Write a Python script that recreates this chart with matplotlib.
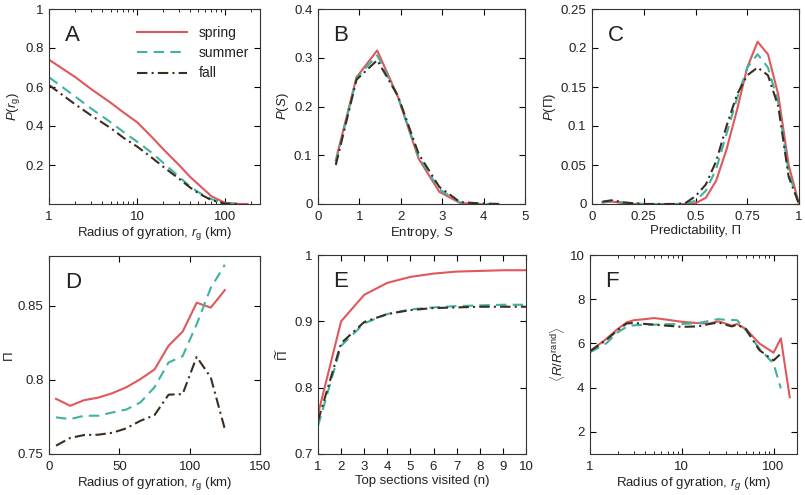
import matplotlib

matplotlib.use("Agg")
import matplotlib.pyplot as plt

plt.rcParams["font.family"] = ["Liberation Sans", "DejaVu Sans"]
plt.rcParams["mathtext.fontset"] = "custom"
plt.rcParams["mathtext.rm"] = "Liberation Sans"
plt.rcParams["mathtext.it"] = "Liberation Sans:italic"
plt.rcParams["mathtext.bf"] = "Liberation Sans:bold"
plt.rcParams["font.size"] = 9.5
plt.rcParams["text.color"] = "#222222"
plt.rcParams["axes.labelcolor"] = "#222222"

# ── Data

seasons = ["spring", "summer", "fall"]

# A: P(r_g)
rg_a = [1, 2, 3, 5, 7, 10, 15, 20, 30, 40, 50, 70, 100, 150, 180]
pa_spring = [0.74, 0.65, 0.59, 0.52, 0.47, 0.42, 0.34, 0.28, 0.20, 0.14, 0.10, 0.04, 0.006, 0.0, 0.0]
pa_summer = [0.65, 0.55, 0.49, 0.42, 0.37, 0.32, 0.26, 0.21, 0.14, 0.09, 0.06, 0.025, 0.003, 0.0]
pa_fall = [0.61, 0.51, 0.455, 0.39, 0.34, 0.295, 0.235, 0.19, 0.13, 0.085, 0.055, 0.02, 0.002, 0.0]

# B: P(S)
s_b = [0.43, 0.93, 1.43, 1.93, 2.43, 2.93, 3.43, 3.93, 4.43]
pb_spring = [0.09, 0.26, 0.315, 0.22, 0.093, 0.025, 0.002, 0.0]
pb_summer = [0.085, 0.258, 0.305, 0.22, 0.097, 0.03, 0.003, 0.0, 0.0]
pb_fall = [0.08, 0.255, 0.295, 0.222, 0.103, 0.035, 0.004, 0.001, 0.0]

# C: P(Pi)
pi_c = [0.05, 0.1, 0.15, 0.2, 0.25, 0.3, 0.35, 0.4, 0.45, 0.5,
        0.55, 0.6, 0.65, 0.7, 0.75, 0.8, 0.85, 0.9, 0.95, 1.0]
pc_spring = [0.002, 0.003, 0.001, 0.0, 0.0, 0.0, 0.0, 0.0, 0.0, 0.001,
             0.008, 0.03, 0.07, 0.12, 0.175, 0.208, 0.192, 0.14, 0.05, 0.0]
pc_summer = [0.002, 0.004, 0.002, 0.001, 0.0, 0.0, 0.0, 0.0, 0.0005, 0.004,
             0.017, 0.045, 0.09, 0.135, 0.175, 0.192, 0.175, 0.13, 0.04, 0.0]
pc_fall = [0.003, 0.005, 0.002, 0.001, 0.0, 0.0, 0.0, 0.0, 0.001, 0.01,
           0.025, 0.055, 0.1, 0.14, 0.165, 0.175, 0.165, 0.125, 0.035, 0.0]

# D: Pi vs r_g
rg_d = [5, 15, 25, 35, 45, 55, 65, 75, 85, 95, 105, 115, 125]
pd_spring = [0.7872, 0.7825, 0.7863, 0.788, 0.791, 0.795, 0.8005, 0.807, 0.823, 0.8325, 0.852, 0.8487, 0.8605]
pd_summer = [0.7747, 0.7735, 0.7758, 0.7758, 0.778, 0.780, 0.7848, 0.795, 0.8117, 0.816, 0.8375, 0.862, 0.8776]
pd_fall = [0.7556, 0.7608, 0.7628, 0.763, 0.7643, 0.7673, 0.7724, 0.7762, 0.790, 0.7904, 0.8155, 0.8016, 0.7668]

# E: Pi tilde vs top n sections
n_e = [1, 2, 3, 4, 5, 6, 7, 8, 9, 10]
pe_spring = [0.76, 0.90, 0.94, 0.958, 0.967, 0.972, 0.975, 0.976, 0.977, 0.977]
pe_summer = [0.742, 0.863, 0.897, 0.911, 0.918, 0.921, 0.923, 0.924, 0.925, 0.925]
pe_fall = [0.75, 0.867, 0.899, 0.911, 0.917, 0.92, 0.921, 0.922, 0.922, 0.922]

# F: <R/R^rand> vs r_g
rg_f = [1, 1.5, 2, 2.5, 3, 4, 5, 7, 10, 15, 20, 25, 30, 35, 40, 50, 70, 100, 120, 150]
pf_spring = [5.65, 6.2, 6.65, 6.95, 7.05, 7.1, 7.15, 7.07, 6.98, 6.92, 6.9, 7.0, 6.9, 6.8, 6.88,
             6.65, 6.0, 5.58, 6.23, 3.57]
pf_summer = [5.6, 6.0, 6.5, 6.75, 6.82, 6.85, 6.85, 6.87, 6.88, 6.92, 7.02, 7.1, 7.07, 7.06, 7.05,
             6.6, 5.77, 5.08, 3.97]
pf_fall = [5.65, 6.15, 6.6, 6.9, 6.93, 6.88, 6.85, 6.8, 6.75, 6.77, 6.88, 6.95, 6.85, 6.77, 6.85,
           6.65, 5.7, 5.23, 5.54]

# ── Styles
RED = "#e0575c"
TEAL = "#3fb3a0"
DARK = "#3b2e1e"
styles = {
    "spring": dict(color=RED, linestyle="-", lw=1.5),
    "summer": dict(color=TEAL, linestyle=(0, (5, 3)), lw=1.5),
    "fall": dict(color=DARK, linestyle=(0, (5, 2, 1, 2)), lw=1.5),
}

W, H = 805, 495
fig = plt.figure(figsize=(W / 100, H / 100), dpi=100)


def _axes(left, right, top, bottom):
    return fig.add_axes([left / W, 1 - bottom / H, (right - left) / W, (bottom - top) / H])


def _style(ax, letter):
    ax.tick_params(which="both", direction="in", top=True, right=True, labelsize=9.5,
                   labelcolor="#222222", pad=5)
    ax.tick_params(axis="y", which="both", pad=4)
    ax.tick_params(which="major", length=4)
    ax.tick_params(which="minor", length=2)
    for sp in ax.spines.values():
        sp.set_linewidth(0.8)
        sp.set_color("#333333")
    ax.xaxis.labelpad = 1.5
    ax.yaxis.labelpad = 2
    ax.text(0.075, 0.92, letter, transform=ax.transAxes, fontsize=16, va="top", ha="left")


def _plot(ax, xs, series):
    for name, ys in zip(seasons, series):
        ax.plot(xs[:len(ys)], ys, label=name, **styles[name])


# A
ax = _axes(49, 260, 9, 204)
_plot(ax, rg_a, [pa_spring, pa_summer, pa_fall])
ax.set_xscale("log")
ax.set_xlim(1, 250)
ax.set_ylim(0, 1)
ax.set_xticks([1, 10, 100])
ax.set_xticklabels(["1", "10", "100"])
ax.set_yticks([0.2, 0.4, 0.6, 0.8, 1])
ax.set_yticklabels(["0.2", "0.4", "0.6", "0.8", "1"])
ax.set_xlabel(r"Radius of gyration, $r_{\rm g}$ (km)")
ax.set_ylabel(r"$P(r_{\rm g})$")
_style(ax, "A")
ax.legend(loc="upper right", frameon=False, fontsize=10, handlelength=3.6,
          borderaxespad=0.4, labelspacing=0.45, bbox_to_anchor=(1.0, 0.97))

# B
ax = _axes(318, 525, 9, 204)
_plot(ax, s_b, [pb_spring, pb_summer, pb_fall])
ax.set_xlim(0, 5)
ax.set_ylim(0, 0.4)
ax.set_xticks([0, 1, 2, 3, 4, 5])
ax.set_yticks([0, 0.1, 0.2, 0.3, 0.4])
ax.set_yticklabels(["0", "0.1", "0.2", "0.3", "0.4"])
ax.set_xlabel(r"Entropy, $S$")
ax.set_ylabel(r"$P(S)$")
_style(ax, "B")

# C
ax = _axes(592, 799, 9, 204)
_plot(ax, pi_c, [pc_spring, pc_summer, pc_fall])
ax.set_xlim(0, 1)
ax.set_ylim(0, 0.25)
ax.set_xticks([0, 0.25, 0.5, 0.75, 1])
ax.set_xticklabels(["0", "0.25", "0.5", "0.75", "1"])
ax.set_yticks([0, 0.05, 0.1, 0.15, 0.2, 0.25])
ax.set_yticklabels(["0", "0.05", "0.1", "0.15", "0.2", "0.25"])
ax.set_xlabel("Predictability, Π")
ax.set_ylabel(r"$P(\Pi)$")
_style(ax, "C")

# D
ax = _axes(49, 260, 256, 454)
_plot(ax, rg_d, [pd_spring, pd_summer, pd_fall])
ax.set_xlim(0, 150)
ax.set_ylim(0.75, 0.8835)
ax.set_xticks([0, 50, 100, 150])
ax.set_yticks([0.75, 0.8, 0.85])
ax.set_yticklabels(["0.75", "0.8", "0.85"])
ax.set_xlabel(r"Radius of gyration, $r_{\rm g}$ (km)")
ax.set_ylabel("Π")
_style(ax, "D")

# E
ax = _axes(318, 526, 255, 454)
_plot(ax, n_e, [pe_spring, pe_summer, pe_fall])
ax.set_xlim(1, 10)
ax.set_ylim(0.7, 1)
ax.set_xticks(n_e)
ax.set_yticks([0.7, 0.8, 0.9, 1])
ax.set_yticklabels(["0.7", "0.8", "0.9", "1"])
ax.set_xlabel("Top sections visited (n)")
ax.set_ylabel(r"$\widetilde{\Pi}$")
_style(ax, "E")

# F
ax = _axes(590, 797, 255, 454)
_plot(ax, rg_f, [pf_spring, pf_summer, pf_fall])
ax.set_xscale("log")
ax.set_xlim(1, 180)
ax.set_ylim(1, 10)
ax.set_xticks([1, 10, 100])
ax.set_xticklabels(["1", "10", "100"])
ax.set_yticks([2, 4, 6, 8, 10])
ax.set_xlabel(r"Radius of gyration, $r_g$ (km)")
ax.set_ylabel(r"$\langle R/R^{\rm rand}\rangle$")
_style(ax, "F")

fig.savefig("out.png", dpi=100)
